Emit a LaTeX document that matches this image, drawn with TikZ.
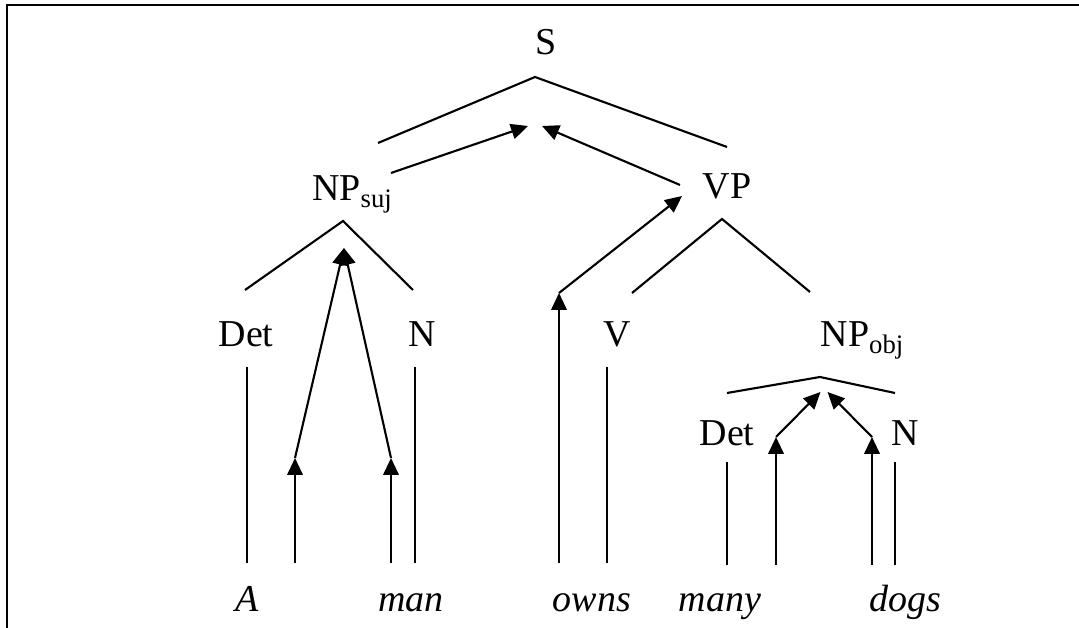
\documentclass[tikz,border=0pt]{standalone}
\usepackage{fontspec}
\setmainfont{Liberation Serif}
\usetikzlibrary{arrows.meta}
\newcommand{\subcat}[1]{\raisebox{-0.18em}{\fontsize{7.6}{9}\selectfont #1}}
\tikzset{
  cat/.style={inner sep=0pt, anchor=base, font=\fontsize{10.8}{13}\selectfont},
  word/.style={cat, font=\fontsize{10.8}{13}\selectfont\itshape},
  branch/.style={line width=0.6pt},
  pass/.style={line width=0.6pt, -{Triangle[length=4.8pt,width=4.4pt]}},
}
\begin{document}
\begin{tikzpicture}[x=0.01cm,y=-0.01cm]
  \useasboundingbox (0,0) rectangle (1079,628);
  % frame
  \draw[line width=0.7pt] (7,628) -- (7,5) -- (1079,5);

  % categories
  \node[cat] (s) at (546,55) {S};
  \node[cat] (npsuj) at (352,201) {NP\subcat{suj}};
  \node[cat] (vp) at (727,199) {VP};
  \node[cat] (det1) at (246,347) {Det};
  \node[cat] (n1) at (422,347) {N};
  \node[cat] (v) at (617,347) {V};
  \node[cat] (npobj) at (862,347) {NP\subcat{obj}};
  \node[cat] (det2) at (727,446) {Det};
  \node[cat] (n2) at (905,446) {N};

  % words
  \node[word] (a) at (247,611) {A};
  \node[word] (man) at (411,611) {man};
  \node[word] (owns) at (592,611) {owns};
  \node[word] (many) at (720,611) {many};
  \node[word] (dogs) at (905,611) {dogs};

  % branches
  \coordinate (sTop) at (535,77);
  \coordinate (npTop) at (343,221);
  \coordinate (vpTop) at (722,219);
  \coordinate (objTop) at (820,377);
  \draw[branch] (378,143) -- (sTop) -- (727,147);
  \draw[branch] (245,290) -- (npTop) -- (413,290);
  \draw[branch] (632,293) -- (vpTop) -- (810,292);
  \draw[branch] (727,393) -- (objTop) -- (895,393);

  % word lines
  \draw[branch] (247,367) -- (247,563);
  \draw[branch] (415,367) -- (415,563);
  \draw[branch] (607,367) -- (607,563);
  \draw[branch] (727,462) -- (727,565);
  \draw[branch] (895,462) -- (895,565);

  % feature passing
  \coordinate (sMeet) at (535,126);
  \coordinate (npMeet) at (344,248);
  \coordinate (objMeet) at (824,392);
  \draw[pass] (295,563) -- (295,458) coordinate (m1);
  \draw[pass] (391,563) -- (391,458) coordinate (m2);
  \draw[pass] (m1) -- (npMeet);
  \draw[pass] (m2) -- (npMeet);
  \draw[pass] (559,563) -- (559,293) coordinate (o1);
  \draw[pass] (o1) -- (682,196);
  \draw[pass] (391,173) -- ([xshift=-2]sMeet);
  \draw[pass] (680,185) -- ([xshift=2]sMeet);
  \draw[pass] (776,565) -- (776,437) coordinate (d2);
  \draw[pass] (872,565) -- (872,437) coordinate (n3);
  \draw[pass] (d2) -- ([xshift=-1]objMeet);
  \draw[pass] (n3) -- ([xshift=1]objMeet);
\end{tikzpicture}
\end{document}
